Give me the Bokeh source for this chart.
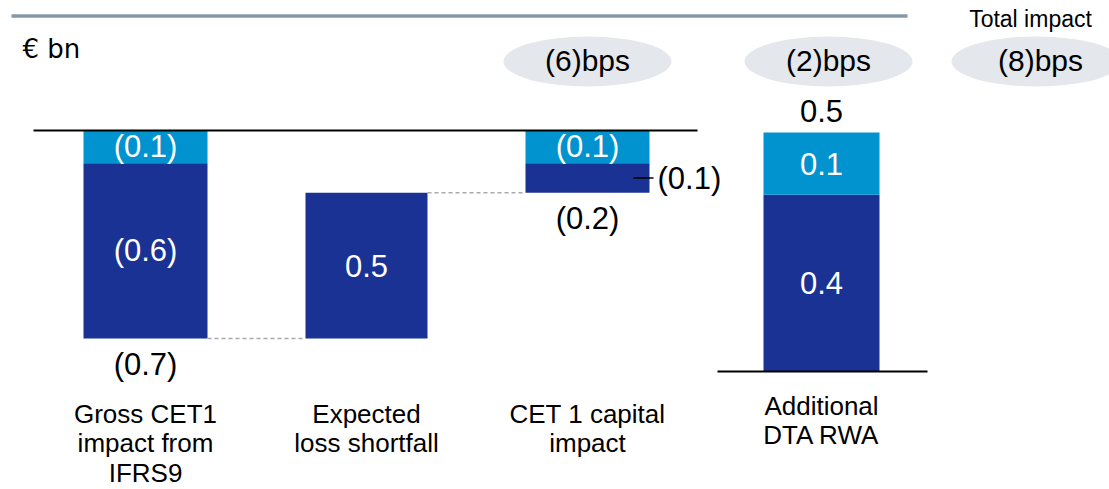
from bokeh.plotting import figure
from bokeh.models import Range1d
from bokeh.embed import file_html
from bokeh.resources import INLINE
from bokeh.core.properties import value

# ---------------- data (EUR bn) ----------------
categories = ["Gross CET1\nimpact from\nIFRS9", "Expected\nloss shortfall",
              "CET 1 capital\nimpact", "Additional\nDTA RWA"]
gross_light = -0.11   # top (light) part of gross CET1 impact
gross_dark = -0.59    # lower (dark) part of gross CET1 impact
el_shortfall = 0.49   # expected loss shortfall offset
cet1_light = -0.11    # CET1 capital impact, light part
cet1_dark = -0.10     # CET1 capital impact, dark part
dta_dark = 0.37       # additional DTA RWA, dark part
dta_light = 0.13      # additional DTA RWA, light part
bps_labels = ["(6)bps", "(2)bps", "(8)bps"]
unit_label = "€ bn"
total_label = "Total impact"

# ---------------- style / layout ----------------
DARK = "#1b3295"
LIGHT = "#0093d0"
FONT = value("Liberation Sans")
W, H = 1109, 489
X0, Y0 = 0, 0
LEFT_ZERO, LEFT_PX = 130, 297       # screen y of 0, px per unit (left panel)
RIGHT_ZERO, RIGHT_PX = 371, 478     # screen y of 0, px per unit (right panel)
XC = [145, 366, 587, 821]
BW = [124, 122, 124, 116]
VAL_FS = "31px"


def fmt(v):
    v = round(v, 2)
    return f"({abs(v):.1f})" if v < 0 else f"{v:.1f}"


p = figure(width=W, height=H, output_backend="svg", toolbar_location=None,
           x_range=Range1d(X0, X0 + W),
           y_range=Range1d((LEFT_ZERO - Y0 - H) / LEFT_PX, (LEFT_ZERO - Y0) / LEFT_PX),
           min_border=0, x_axis_location=None, y_axis_location=None)
p.extra_y_ranges = {
    "right": Range1d((RIGHT_ZERO - Y0 - H) / RIGHT_PX, (RIGHT_ZERO - Y0) / RIGHT_PX),
    "px": Range1d(Y0 + H, Y0),
}
p.grid.visible = False
p.outline_line_color = None
p.background_fill_color = "white"
p.border_fill_color = "white"

# ---------------- waterfall computation ----------------
g_total = gross_light + gross_dark
after_el = g_total + el_shortfall
c_total = cet1_light + cet1_dark
dta_total = dta_dark + dta_light

# light segments (left panel)
p.vbar(x=[XC[0], XC[2]], width=[BW[0], BW[2]], top=[0, 0],
       bottom=[gross_light, cet1_light], fill_color=LIGHT, line_color=None)
# dark segments (left panel)
p.vbar(x=[XC[0], XC[1], XC[2]], width=[BW[0], BW[1], BW[2]],
       top=[gross_light, after_el, cet1_light],
       bottom=[g_total, g_total, c_total], fill_color=DARK, line_color=None)
# right panel bar
p.vbar(x=[XC[3]], width=[BW[3]], top=[dta_dark], bottom=[0],
       fill_color=DARK, line_color=None, y_range_name="right")
p.vbar(x=[XC[3]], width=[BW[3]], top=[dta_total], bottom=[dta_dark],
       fill_color=LIGHT, line_color=None, y_range_name="right")

# dashed connectors
p.segment(x0=[XC[0] + BW[0] / 2, XC[1] + BW[1] / 2], y0=[g_total, after_el],
          x1=[XC[1] - BW[1] / 2, XC[2] - BW[2] / 2], y1=[g_total, after_el],
          line_color="#aaaaaa", line_width=1.5, line_dash="4 3")

# baselines
p.segment(x0=[33], y0=[0], x1=[697], y1=[0], line_color="black", line_width=2)
p.segment(x0=[717], y0=[0], x1=[927], y1=[0], line_color="black", line_width=2,
          y_range_name="right")

# top grey rule
p.segment(x0=[11], y0=[15.5], x1=[907], y1=[15.5], line_color="#8598aa",
          line_width=3.5, y_range_name="px")

# in-bar labels (white)
p.text(x=[XC[0], XC[0], XC[1], XC[2]],
       y=[gross_light / 2, gross_light + gross_dark / 2,
          g_total + el_shortfall / 2, cet1_light / 2],
       text=[fmt(gross_light), fmt(gross_dark), fmt(el_shortfall), fmt(cet1_light)],
       text_color="white", text_font=FONT, text_font_size=VAL_FS,
       text_align="center", text_baseline="middle")
p.text(x=[XC[3], XC[3]], y=[dta_dark / 2, dta_dark + dta_light / 2],
       text=[fmt(dta_dark), fmt(dta_light)], text_color="white", text_font=FONT,
       text_font_size=VAL_FS, text_align="center", text_baseline="middle",
       y_range_name="right")

# outside labels (black)
p.text(x=[XC[0], XC[2]], y=[g_total - 26 / LEFT_PX, c_total - 26 / LEFT_PX],
       text=[fmt(g_total), fmt(c_total)], text_color="black", text_font=FONT,
       text_font_size=VAL_FS, text_align="center", text_baseline="middle")
p.text(x=[XC[3]], y=[dta_total + 22 / RIGHT_PX], text=[fmt(dta_total)],
       text_color="black", text_font=FONT, text_font_size=VAL_FS,
       text_align="center", text_baseline="middle", y_range_name="right")
# callout for the dark part of CET1 capital impact
mid_dark = cet1_light + cet1_dark / 2
p.segment(x0=[XC[2] + 46], y0=[mid_dark], x1=[XC[2] + 66], y1=[mid_dark],
          line_color="black", line_width=1.5)
p.text(x=[XC[2] + 70], y=[mid_dark], text=[fmt(cet1_dark)], text_color="black",
       text_font=FONT, text_font_size=VAL_FS, text_align="left",
       text_baseline="middle")

# category labels (line centres)
CAT_MID = [413, 413, 413, 405]
LINE_H = 29.5
for xc, cat, mid in zip(XC, categories, CAT_MID):
    lines = cat.split("\n")
    p.text(x=[xc] * len(lines), y=[mid + i * LINE_H for i in range(len(lines))],
           text=lines, text_color="black", text_font=FONT, text_font_size="26px",
           text_align="center", text_baseline="middle", y_range_name="px")

# bps ellipses
ELL_X = [587, 828, 1036]
ELL_W = [168, 168, 170]
p.ellipse(x=ELL_X, y=[61] * 3, width=ELL_W, height=[50] * 3,
          width_units="screen", height_units="screen",
          fill_color="#e4e7ec", line_color=None, y_range_name="px")
p.text(x=[587, 828, 1040], y=[60] * 3, text=bps_labels, text_color="black",
       text_font=FONT, text_font_size="30px", text_align="center",
       text_baseline="middle", y_range_name="px")
p.text(x=[1030], y=[18], text=[total_label], text_color="black", text_font=FONT,
       text_font_size="23px", text_align="center", text_baseline="middle",
       y_range_name="px")
p.text(x=[22], y=[48], text=[unit_label], text_color="black",
       text_font=value("DejaVu Sans"), text_font_size="26px", text_align="left",
       text_baseline="middle", y_range_name="px")

open("out.html", "w").write(file_html(p, INLINE))
